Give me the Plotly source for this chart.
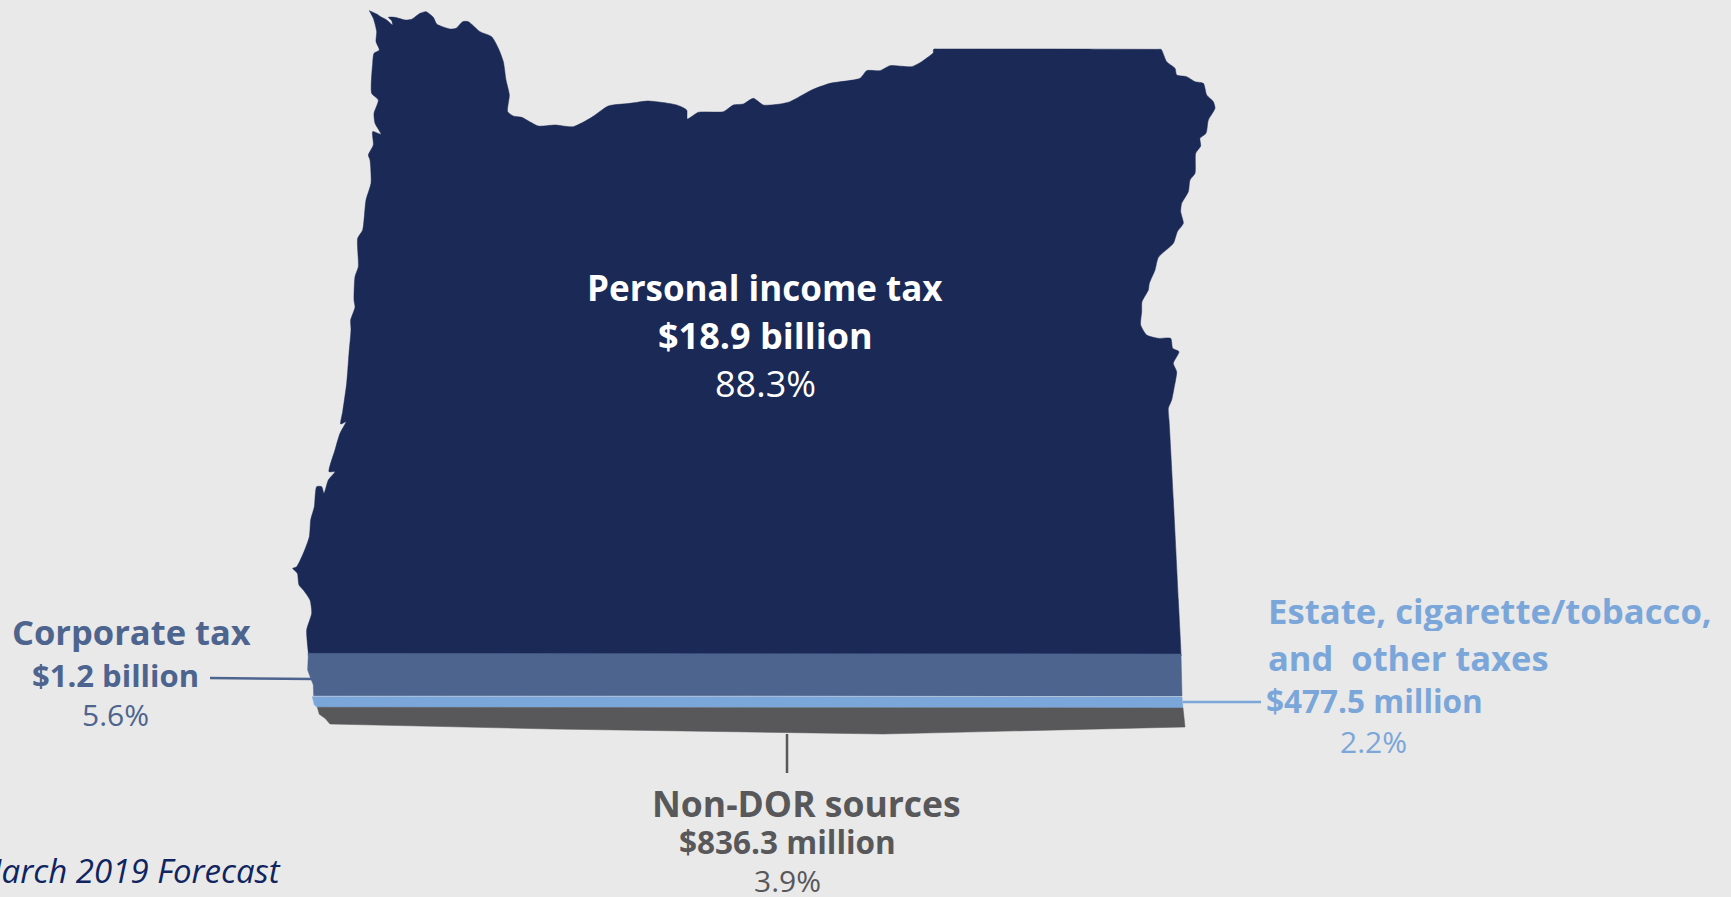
import plotly.graph_objects as go

BG = "#E9E9E9"
NAVY = "#1A2955"
CORP = "#4D648F"
LIGHT = "#7BA6DA"
GRAY = "#58585A"
NOTE = "#0F2460"
FONT = "Open Sans"

# Outline, in 3x crop coordinates of three zooms
north_crop = [(268,32),(290,42),(305,52),(320,60),(338,75),(335,62),(325,52),(345,52),(375,60),(395,58),(420,40),(438,35),(460,52),(470,72),(510,87),(528,85),(548,65),(565,65),(600,95),(635,110),(655,145),(670,185),(678,240),(688,285),(683,335),(700,348),(725,352),(775,378),(825,375),(880,380),(935,352),(985,318),(1050,310),(1105,303),(1190,315),(1220,330),(1222,357),(1255,337),(1330,335),(1360,315),(1390,312),(1420,295),(1450,315),(1500,312)]
east_crop = [(30,245),(95,210),(150,190),(240,175),(260,152),(300,152),(330,137),(395,140),(425,125),(455,103),(460,98),(460,90),(462,87),(475,87),(800,87),(1130,88),(1143,88),(1146,92),(1160,125),(1185,145),(1190,165),(1220,170),(1245,185),(1270,190),(1280,225),(1300,245),(1305,265),(1285,300),(1278,340),(1260,355),(1262,378),(1247,400),(1245,460),(1230,480),(1225,515),(1205,550),(1202,575),(1210,610),(1192,635),(1180,670),(1135,712),(1125,750),(1108,790),(1105,810),(1086,845),(1085,875),(1082,915),(1100,945),(1135,955),(1172,955),(1178,985),(1197,995),(1180,1030),(1190,1055),(1182,1105),(1175,1140),(1165,1165),(1167,1200),(1168,1215),(1180,1440),(1195,1740),(1203,1900)]
southwest_crop = [(95,1066),(85,1066),(85,1060),(80,990),(95,940),(90,900),(70,870),(57,855),(52,820),(38,805),(50,800),(70,760),(88,710),(92,660),(103,620),(110,560),(125,560),(132,580),(145,540),(165,515),(147,515),(165,450),(180,400),(198,365),(182,372),(188,335),(200,250),(207,160),(213,90),(212,60),(225,22),(222,0)]
northwest_crop = [(225,830),(235,800),(233,715),(248,690),(258,600),(273,550),(270,480),(265,465),(280,435),(278,395),(303,403),(285,370),(282,340),(295,300),(275,280),(278,190),(282,160),(298,150),(288,125),(290,95),(280,55),(268,32)]
corp_left_crop = [(85,1060),(83,1110),(92,1135),(100,1155),(101,1187)]
light_left_crop = [(97,1190),(103,1215),(112,1222)]
gray_left_crop = [(112,1222),(118,1243),(135,1255),(150,1272)]

band_top = [654, 696, 708]
right_edge = [1181, 1182, 1183, 1185]
gray_bottom = [(552,729),(883,734),(1185,727)]

personal_lines = ["<b>Personal income tax</b>", "<b>$18.9 billion</b>", "88.3%"]
corporate_lines = ["<b>Corporate tax</b>", "<b>$1.2 billion</b>", "5.6%"]
estate_lines = ["<b>Estate, cigarette/tobacco,</b>", "<b>and  other taxes</b>", "<b>$477.5 million</b>", "2.2%"]
nondor_lines = ["<b>Non-DOR sources</b>", "<b>$836.3 million</b>", "3.9%"]
forecast_note = "<i>March 2019 Forecast</i>"


def crop(points, ox, oy):
    return [(ox + p[0] / 3, oy + p[1] / 3) for p in points]


navy_pts = (crop(north_crop, 280, 0) + crop(east_crop, 780, 20)
            + [(right_edge[0], band_top[0] + 2), (right_edge[0] - 8, band_top[0] + 3)]
            + crop(southwest_crop, 280, 300) + crop(northwest_crop, 280, 0))
corp_pts = (crop(corp_left_crop, 280, 300)
            + [(right_edge[1], band_top[1]), (right_edge[0], band_top[0])])
light_pts = (crop(light_left_crop, 280, 300)
             + [(right_edge[2], band_top[2]), (right_edge[1], band_top[1] + 1)])
gray_pts = (crop(gray_left_crop, 280, 300) + gray_bottom
            + [(right_edge[2], band_top[2])])

fig = go.Figure()
xs = [p[0] for p in navy_pts]
ys = [p[1] for p in navy_pts]
fig.add_trace(go.Scatter(x=xs + xs[:1], y=ys + ys[:1], mode="lines", fill="toself", fillcolor=NAVY,
                         line=dict(color=NAVY, width=0.5, shape="spline", smoothing=0.6), hoverinfo="skip"))
for pts, col in [(corp_pts, CORP), (light_pts, LIGHT), (gray_pts, GRAY)]:
    xs = [p[0] for p in pts]
    ys = [p[1] for p in pts]
    fig.add_trace(go.Scatter(x=xs + xs[:1], y=ys + ys[:1], mode="lines", fill="toself",
                             fillcolor=col, line=dict(color=col, width=0.5), hoverinfo="skip"))

for xs, ys, col in [([210, 313], [678, 679], CORP),
                    ([1183, 1261], [702, 702], LIGHT),
                    ([787, 787], [734, 773], GRAY)]:
    fig.add_trace(go.Scatter(x=xs, y=ys, mode="lines", line=dict(color=col, width=2.5), hoverinfo="skip"))


def label(text, x, y, size, col, anchor="center"):
    fig.add_annotation(x=x, y=y, text=text, showarrow=False, xanchor=anchor, yanchor="middle",
                       height=round(size * 1.2), borderpad=0,
                       font=dict(family=FONT, size=size, color=col))


label(personal_lines[0], 765, 287, 35, "white")
label(personal_lines[1], 765, 335, 36, "white")
label(personal_lines[2], 765, 383, 36, "white")
label(corporate_lines[0], 131, 631, 34.5, CORP)
label(corporate_lines[1], 115, 674, 31, CORP)
label(corporate_lines[2], 115, 714, 30, CORP)
label(estate_lines[0], 1267, 610, 34.7, LIGHT, "left")
label(estate_lines[1], 1267, 657, 34.5, LIGHT, "left")
label(estate_lines[2], 1265, 700, 31.5, LIGHT, "left")
label(estate_lines[3], 1373, 741, 30, LIGHT)
label(nondor_lines[0], 806, 802, 35.5, GRAY)
label(nondor_lines[1], 787, 841, 31.5, GRAY)
label(nondor_lines[2], 787, 880, 30, GRAY)
label(forecast_note, 282, 870, 33, NOTE, "right")

fig.update_layout(width=1731, height=897, margin=dict(l=0, r=0, t=0, b=0), showlegend=False,
                  paper_bgcolor=BG, plot_bgcolor=BG)
fig.update_xaxes(range=[0, 1731], visible=False, fixedrange=True)
fig.update_yaxes(range=[897, 0], visible=False, fixedrange=True)

fig.write_html("out.html", config={"displayModeBar": False},
               post_script="document.body.style.margin='0';document.body.style.background='%s';" % BG)
